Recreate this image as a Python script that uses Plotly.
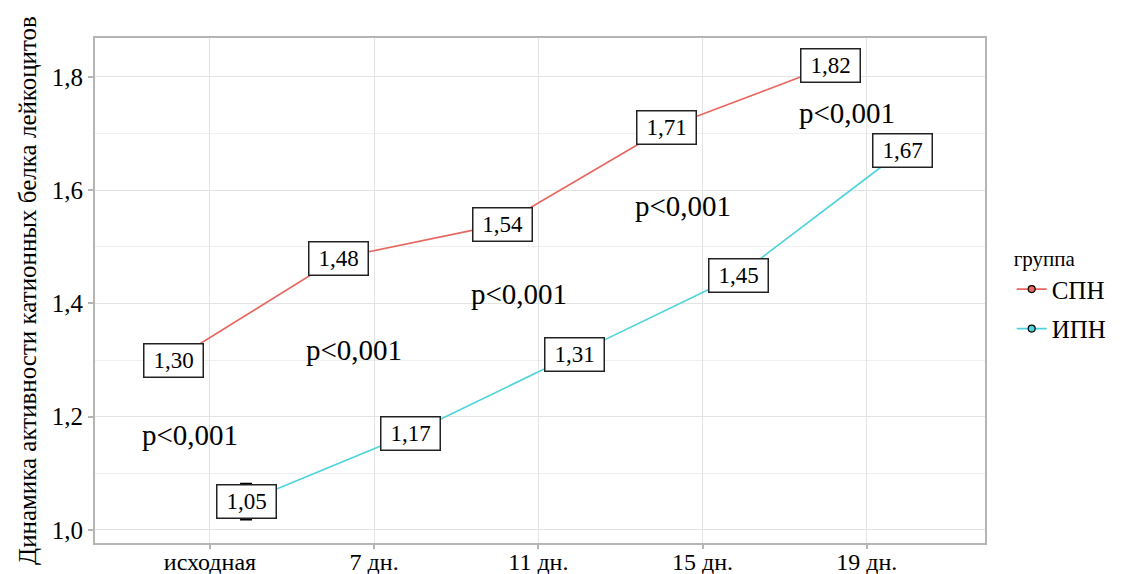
import plotly.graph_objects as go

# Data
categories = ["исходная", "7 дн.", "11 дн.", "15 дн.", "19 дн."]
spn_values = [1.30, 1.48, 1.54, 1.71, 1.82]
ipn_values = [1.05, 1.17, 1.31, 1.45, 1.67]
spn_err = [0.02, 0.02, 0.02, 0.02, 0.02]
ipn_err = [0.032, 0.02, 0.02, 0.02, 0.02]
p_labels = ["p<0,001", "p<0,001", "p<0,001", "p<0,001", "p<0,001"]

groups = [
    ("СПН", spn_values, spn_err, "#E8675F", -0.22),
    ("ИПН", ipn_values, ipn_err, "#4DD3DB", 0.22),
]

SERIF = "Liberation Serif"

fig = go.Figure()
annotations = []
for name, vals, errs, color, dodge in groups:
    xs = [i + dodge for i in range(len(categories))]
    fig.add_trace(go.Scatter(
        x=xs, y=vals, name=name, mode="lines+markers", legendgroup=name,
        line=dict(color=color, width=1.6),
        marker=dict(color=color, size=7, line=dict(color="black", width=1.2)),
        error_y=dict(type="data", array=errs, visible=True, color="black",
                     thickness=1.6, width=6),
    ))
    for x, v in zip(xs, vals):
        annotations.append(dict(
            x=x, y=v, xref="x", yref="y", showarrow=False,
            text=f"{v:.2f}".replace(".", ","),
            font=dict(family=SERIF, size=23, color="black"),
            bgcolor="white", bordercolor="#222222", borderwidth=1.5,
            borderpad=2, width=54, height=28,
        ))

# p-value labels between the two groups
for i, txt in enumerate(p_labels):
    ymid = (spn_values[i] + ipn_values[i]) / 2
    annotations.append(dict(
        x=i - 0.12, y=ymid - 0.008, xref="x", yref="y", showarrow=False,
        text=txt, font=dict(family=SERIF, size=29, color="black"),
    ))

fig.update_layout(
    width=1125, height=574,
    margin=dict(l=95, r=140, t=38, b=31, autoexpand=False),
    paper_bgcolor="white", plot_bgcolor="white",
    separators=", ",
    annotations=annotations,
    font=dict(family=SERIF, color="black"),
    legend=dict(
        title=dict(text="группа", font=dict(family=SERIF, size=21)),
        font=dict(family=SERIF, size=25),
        x=1.03, xanchor="left", y=0.49, yanchor="middle",
        tracegroupgap=4,
        bgcolor="rgba(0,0,0,0)",
    ),
    showlegend=True,
)

fig.update_xaxes(
    range=[-0.70, 4.72], tickvals=list(range(len(categories))), ticktext=categories,
    tickfont=dict(family=SERIF, size=24, color="black"),
    showgrid=True, gridcolor="#E3E3E3", gridwidth=1.2,
    showline=True, mirror=True, linecolor="#B5B5B5", linewidth=2,
    ticks="outside", ticklen=4, tickcolor="#B5B5B5", tickwidth=1.5,
    ticklabelstandoff=-8,
    zeroline=False, automargin=False,
)
fig.update_yaxes(
    range=[0.977, 1.8686], tickvals=[1.0, 1.2, 1.4, 1.6, 1.8], tickformat=".1f",
    tickfont=dict(family=SERIF, size=25, color="black"),
    title=dict(text="Динамика активности катионных белка лейкоцитов",
               font=dict(family=SERIF, size=25, color="black"), standoff=8),
    showgrid=True, gridcolor="#E3E3E3", gridwidth=1.2,
    minor=dict(tickvals=[1.1, 1.3, 1.5, 1.7], showgrid=True,
               gridcolor="#F0F0F0", gridwidth=1),
    showline=True, mirror=True, linecolor="#B5B5B5", linewidth=2,
    ticks="outside", ticklen=5, tickcolor="#B5B5B5", tickwidth=1.5,
    zeroline=False, automargin=False,
)

fig.write_html("out.html")
